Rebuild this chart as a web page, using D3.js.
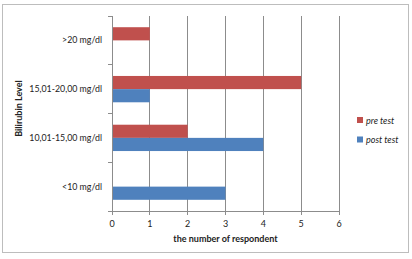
<!DOCTYPE html>
<meta charset="utf-8">
<script src="https://d3js.org/d3.v7.min.js"></script>
<style>
  body { margin: 0; background: #fff; }
  text { font-family: Lato, "Open Sans", sans-serif; fill: #222; }
</style>
<div id="chart"></div>
<script>
// data
var levels = ["<10 mg/dl", "10,01-15,00 mg/dl", "15,01-20,00 mg/dl", ">20 mg/dl"];
var seriesNames = ["pre test", "post test"];
var preTest = [0, 2, 5, 1];
var postTest = [3, 4, 1, 0];
var xTicks = [0, 1, 2, 3, 4, 5, 6];
var colors = ["#C0504D", "#4F81BD"];

var W = 412, H = 259;
var margin = {top: 16, right: 73, bottom: 48, left: 112};
var width = 339 - margin.left, height = 211 - margin.top;

var svg = d3.select("#chart").append("svg")
  .attr("width", W).attr("height", H);

// outer frame
svg.append("rect")
  .attr("x", 2.5).attr("y", 4.5).attr("width", 406).attr("height", 248)
  .attr("fill", "none").attr("stroke", "#bdbdbd");

var g = svg.append("g")
  .attr("transform", "translate(" + margin.left + "," + margin.top + ")");

var x = d3.scaleLinear().domain([0, 6]).range([0, width]);
// top category first
var y = d3.scaleBand().domain(levels.slice().reverse()).range([0, height]).paddingInner(0.46).paddingOuter(0.23);
var ySub = d3.scaleBand().domain(seriesNames).range([0, y.bandwidth()]);

// grid lines
g.selectAll(".grid").data(xTicks.slice(1)).enter().append("line")
  .attr("x1", function(d){ return x(d); }).attr("x2", function(d){ return x(d); })
  .attr("y1", 0).attr("y2", height)
  .attr("stroke", "#8c8c8c").attr("stroke-width", 1)
  .attr("shape-rendering", "crispEdges");

// bars
var rows = levels.map(function(l, i){ return {level: l, values: [preTest[i], postTest[i]]}; });
var grp = g.selectAll(".row").data(rows).enter().append("g")
  .attr("transform", function(d){ return "translate(0," + y(d.level) + ")"; });
grp.selectAll("rect").data(function(d){
    return d.values.map(function(v, j){ return {name: seriesNames[j], value: v, c: colors[j]}; });
  }).enter().append("rect")
  .filter(function(d){ return d.value > 0; })
  .attr("x", 0)
  .attr("y", function(d){ return ySub(d.name); })
  .attr("width", function(d){ return x(d.value); })
  .attr("height", ySub.bandwidth())
  .attr("fill", function(d){ return d.c; });

// y axis line + ticks at category boundaries
g.append("line").attr("x1", 0).attr("x2", 0).attr("y1", 0).attr("y2", height)
  .attr("stroke", "#8c8c8c").attr("shape-rendering", "crispEdges");
var step = height / levels.length;
g.selectAll(".ytick").data(d3.range(levels.length + 1)).enter().append("line")
  .attr("x1", -4).attr("x2", 0)
  .attr("y1", function(d){ return d * step; }).attr("y2", function(d){ return d * step; })
  .attr("stroke", "#8c8c8c").attr("shape-rendering", "crispEdges");
g.selectAll(".ylab").data(levels).enter().append("text")
  .attr("x", -10)
  .attr("y", function(d){ return y(d) + y.bandwidth() / 2; })
  .attr("dy", "0.35em")
  .attr("text-anchor", "end").attr("font-size", "8.8px")
  .text(function(d){ return d; });

// x axis
g.append("line").attr("x1", 0).attr("x2", width).attr("y1", height).attr("y2", height)
  .attr("stroke", "#8c8c8c").attr("shape-rendering", "crispEdges");
g.selectAll(".xtick").data(xTicks).enter().append("line")
  .attr("x1", function(d){ return x(d); }).attr("x2", function(d){ return x(d); })
  .attr("y1", height).attr("y2", height + 4)
  .attr("stroke", "#8c8c8c").attr("shape-rendering", "crispEdges");
g.selectAll(".xlab").data(xTicks).enter().append("text")
  .attr("x", function(d){ return x(d); })
  .attr("y", height + 16)
  .attr("text-anchor", "middle").attr("font-size", "9px")
  .text(function(d){ return d; });

// axis titles
svg.append("text")
  .attr("x", margin.left + x(3)).attr("y", 242)
  .attr("text-anchor", "middle").attr("font-size", "9px").attr("font-weight", "bold")
  .text("the number of respondent");
svg.append("text")
  .attr("transform", "translate(22," + (margin.top + height / 2 - 5) + ") rotate(-90)")
  .attr("text-anchor", "middle").attr("font-size", "9px").attr("font-weight", "bold")
  .text("Bilirubin Level");

// legend
var leg = svg.selectAll(".leg").data(seriesNames).enter().append("g")
  .attr("transform", function(d, i){ return "translate(357," + (117 + i * 19.5) + ")"; });
leg.append("rect").attr("width", 6).attr("height", 6)
  .attr("fill", function(d, i){ return colors[i]; });
leg.append("text").attr("x", 9).attr("y", 6.5)
  .attr("font-size", "9px").attr("font-style", "italic")
  .text(function(d){ return d; });
</script>
